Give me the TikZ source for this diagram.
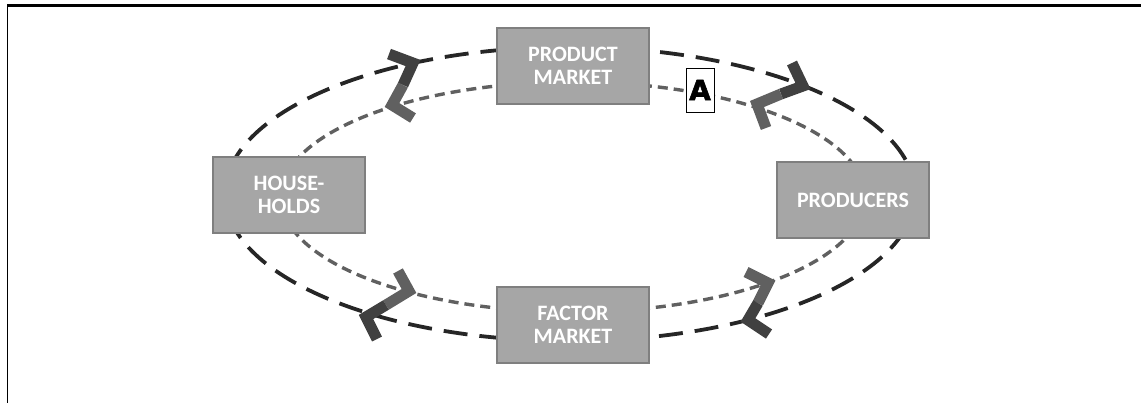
\documentclass[tikz,border=0pt]{standalone}
\usepackage{fontspec}
\setmainfont{Carlito}
\newfontfamily\heavyfont[FakeBold=2]{DejaVu Sans}
\usetikzlibrary{positioning}
\definecolor{boxfill}{HTML}{A6A6A6}
\definecolor{boxline}{HTML}{7F7F7F}
\definecolor{outerdark}{HTML}{262626}
\definecolor{innergray}{HTML}{606060}
\definecolor{armdark}{HTML}{404040}
\tikzset{
  sector/.style={draw=boxline, line width=1.2pt, fill=boxfill, minimum width=76pt,
    minimum height=38pt, align=center, text=white, font=\fontsize{11}{11.5}\selectfont\bfseries},
  moneyflow/.style={draw=outerdark, line width=1.9pt, dash pattern=on 12pt off 6pt},
  goodsflow/.style={draw=innergray, line width=1.7pt, dash pattern=on 5pt off 3pt},
  darkarm/.style={draw=armdark, line width=5.5pt, miter limit=10},
  grayarm/.style={draw=innergray, line width=5.5pt, miter limit=10},
}

\begin{document}
\begin{tikzpicture}[x=0.5pt, y=-0.5pt]
  \useasboundingbox (0,0) rectangle (1141,403);
  \draw[line width=1.3pt] (7,5.5) -- (1141,5.5); % 上の線
  \draw[line width=0.5pt] (7,5) -- (7,403); % 左の線

  \draw[moneyflow] (570,194) ellipse [x radius=172.5pt, y radius=73.5pt]; % 外側
  \draw[goodsflow] (573,197) ellipse [x radius=146pt, y radius=57.5pt]; % 内側

  \node[sector] (product) at (573,66) {PRODUCT\\MARKET};
  \node[sector] (house) at (289,195) {HOUSE-\\HOLDS};
  \node[sector] (producer) at (853,200) {PRODUCERS};
  \node[sector] (factor) at (573,325) {FACTOR\\MARKET};

  % 矢印
  \draw[darkarm] (389,54) -- (413,63) -- (403,85);
  \draw[grayarm] (403,85) -- (392,105) -- (413,118);
  \draw[darkarm] (792,63) -- (803,86) -- (781,94);
  \draw[grayarm] (781,94) -- (757,104) -- (766,128);
  \draw[grayarm] (398,271) -- (409,291) -- (386,305);
  \draw[darkarm] (386,305) -- (366,317) -- (377,339);
  \draw[grayarm] (746,272) -- (768,283) -- (758,303);
  \draw[darkarm] (758,303) -- (748,320) -- (769,334);

  \node[draw, line width=0.5pt, fill=white, minimum width=14pt, minimum height=22pt,
    inner sep=0pt, font=\heavyfont\fontsize{14}{14}\selectfont\bfseries] (marker) at (700,90) {A};
\end{tikzpicture}
\end{document}
